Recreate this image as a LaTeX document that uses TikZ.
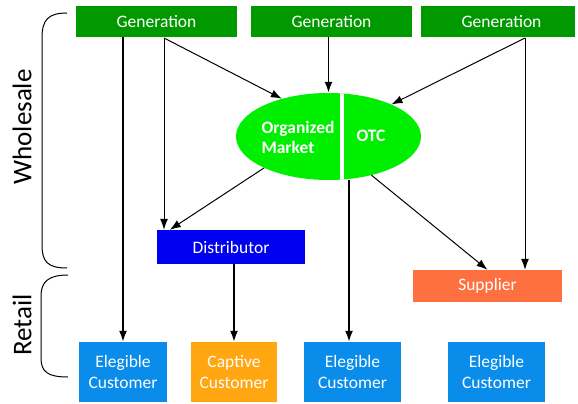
\documentclass[tikz,border=0pt]{standalone}
\usepackage{fontspec}
\setmainfont{Carlito}
\usepackage{tikz}
\usetikzlibrary{arrows.meta,shapes.geometric}
\definecolor{gengreen}{RGB}{0,153,0}
\definecolor{mktgreen}{RGB}{0,238,0}
\definecolor{distblue}{RGB}{0,0,240}
\definecolor{suporange}{RGB}{255,112,64}
\definecolor{custblue}{RGB}{10,140,235}
\definecolor{captorange}{RGB}{255,166,16}
\tikzset{
	box/.style={rectangle, inner sep=0pt, text=white, align=center, font=\fontsize{17.5}{21}\selectfont},
	thinarrow/.style={-{Latex[length=11pt,width=8pt]}, line width=1pt},
	thickarrow/.style={-{Latex[length=11pt,width=8pt]}, line width=1.8pt},
	bracket/.style={line width=1pt},
}

\begin{document}
\begin{tikzpicture}[x=1pt,y=-1pt]
	\useasboundingbox (0,0) rectangle (578,404);
	\node [box, fill=gengreen, minimum width=161pt, minimum height=31pt] (gen1) at (156.5,21.5) {Generation};
	\node [box, fill=gengreen, minimum width=161pt, minimum height=31pt] (gen2) at (331.5,21.5) {Generation};
	\node [box, fill=gengreen, minimum width=154pt, minimum height=31pt] (gen3) at (498,21.5) {};
	\node [box] (gen3t) at (501.5,21.5) {Generation};
	\node [ellipse, fill=mktgreen, inner sep=0pt, minimum width=185pt, minimum height=87pt] (mkt) at (328.5,136.5) {};
	\begin{scope}
		\clip (mkt.center) ellipse [x radius=92.5, y radius=43.5];
		\draw [white, line width=4pt] (342,90) -- (342,185);
	\end{scope}
	\node [anchor=west, text=white, align=left, font=\fontsize{17.5}{20}\selectfont\bfseries] (org) at (258,137) {Organized\\Market};
	\node [text=white, font=\fontsize{17.5}{20}\selectfont\bfseries] (otc) at (371,136) {OTC};
	\node [box, fill=distblue, minimum width=148pt, minimum height=34pt] (dist) at (231,247) {Distributor};
	\node [box, fill=suporange, minimum width=149pt, minimum height=32pt] (sup) at (487.5,286) {Supplier};
	\node [box, fill=custblue, minimum width=88pt, minimum height=60pt] (e1) at (123,372) {Elegible\\Customer};
	\node [box, fill=captorange, minimum width=86pt, minimum height=60pt] (cap) at (234,372) {Captive\\Customer};
	\node [box, fill=custblue, minimum width=97pt, minimum height=60pt] (e3) at (352.5,372) {Elegible\\Customer};
	\node [box, fill=custblue, minimum width=97pt, minimum height=60pt] (e4) at (496.5,372) {Elegible\\Customer};
	\coordinate (g1s) at (164,38);
	\coordinate (g3s) at (525,38);
	\draw [thickarrow] (gen1.south -| e1.north) -- (e1.north);
	\draw [thinarrow] (g1s) -- (g1s |- dist.north);
	\draw [thinarrow] (g1s) -- (mkt.141);
	\draw [thickarrow] (gen2.south -| mkt.north) -- (mkt.north);
	\draw [thinarrow] (g3s) -- (mkt.27);
	\draw [thinarrow] (g3s) -- (g3s |- sup.north);
	\draw [thinarrow] (mkt.206) -- ([xshift=13pt]dist.north west);
	\draw [thinarrow] (mkt.318) -- (sup.north);
	\draw [thickarrow] ([xshift=20.5pt]mkt.south) -- ([xshift=20.5pt]mkt.south |- e3.north);
	\draw [thickarrow] (dist.south -| cap.north) -- (cap.north);
	\draw [bracket] (67,13) .. controls (48,13) and (42,20) .. (42,38) -- (42,245) .. controls (42,262) and (48,268) .. (67,268);
	\draw [bracket] (68,275) .. controls (48,275) and (41,282) .. (41,296) -- (41,358) .. controls (41,372) and (48,377) .. (68,377);
	\node [rotate=90, font=\fontsize{27}{30}\selectfont] (whole) at (22,127) {Wholesale};
	\node [rotate=90, font=\fontsize{27}{30}\selectfont] (retail) at (22,325) {Retail};
\end{tikzpicture}
\end{document}
